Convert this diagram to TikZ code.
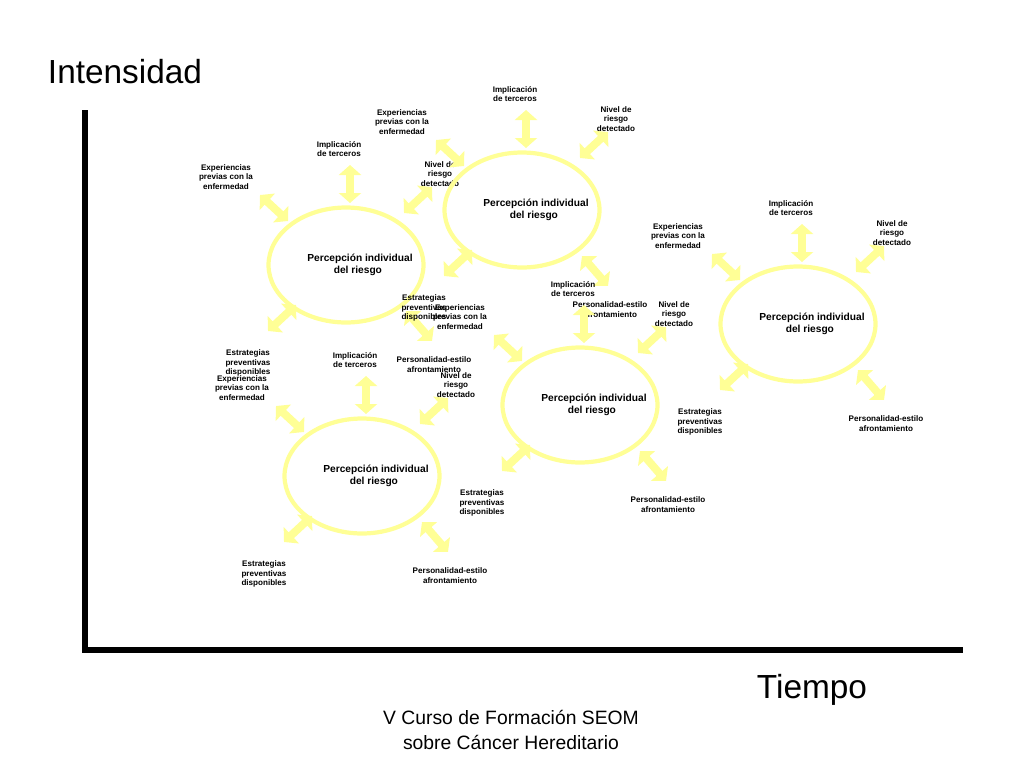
\documentclass[tikz,border=0pt]{standalone}
\usepackage{fontspec}
\setmainfont{Liberation Sans}
\usetikzlibrary{arrows.meta,shapes.geometric}
\definecolor{paleyellow}{RGB}{255,255,150}

\begin{document}
\begin{tikzpicture}[x=0.02cm,y=-0.02cm]
    \tikzstyle{percep}=[ellipse,draw=paleyellow,line width=2.4pt,minimum width=3.1cm,minimum height=2.3cm]
    \tikzstyle{pair}=[paleyellow,line width=4.5pt,{Triangle[length=0.2cm,width=0.44cm]}-{Triangle[length=0.2cm,width=0.44cm]}]
    \tikzstyle{annot}=[align=center,font=\bfseries\fontsize{4.6}{5.6}\selectfont,inner sep=0pt]
    \tikzstyle{big}=[font=\fontsize{19}{22}\selectfont,inner sep=0pt]
    \useasboundingbox (0,0) rectangle (1024,768);

    % Axes
    \coordinate (top) at (85,110);
    \coordinate (orig) at (85,650);
    \coordinate (right) at (963,650);
    \draw[line width=3.5pt] (top) -- (orig) -- (right);
    \node[big] (Y) at (125,72) {Intensidad};
    \node[big] (X) at (812,690) {Tiempo};
    \node[align=center,font=\fontsize{11}{14}\selectfont] (F) at (511,730) {V Curso de Formación SEOM\\sobre Cáncer Hereditario};

    % Clusters
    \foreach \cx/\cy/\n in {346/265/1, 522/210/2, 798/324/3, 580/405/4, 362/476/5}{
        \begin{scope}[shift={(\cx,\cy)}]
            \node[percep] (P-\n) at (0,0) {};
            \node[annot,align=left,font=\bfseries\fontsize{5.8}{7}\selectfont] (T-\n) at (14,0) {Percepción individual\\\hspace*{2.6em}del riesgo};
            \draw[pair] (4,-62) -- (4,-100);
            \draw[pair] (-58,-44) -- (-86,-70);
            \draw[pair] (58,-52) -- (86,-78);
            \draw[pair] (-50,40) -- (-78,66);
            \draw[pair] (60,46) -- (86,76);
            \node[annot] (I-\n) at (-7,-116) {Implicación\\de terceros};
            \node[annot] (E-\n) at (-120,-88) {Experiencias\\previas con la\\enfermedad};
            \node[annot] (N-\n) at (94,-91) {Nivel de\\riesgo\\detectado};
            \node[annot] (S-\n) at (-98,98) {Estrategias\\preventivas\\disponibles};
            \node[annot] (R-\n) at (88,100) {Personalidad-estilo\\afrontamiento};
        \end{scope}
    }
\end{tikzpicture}
\end{document}
